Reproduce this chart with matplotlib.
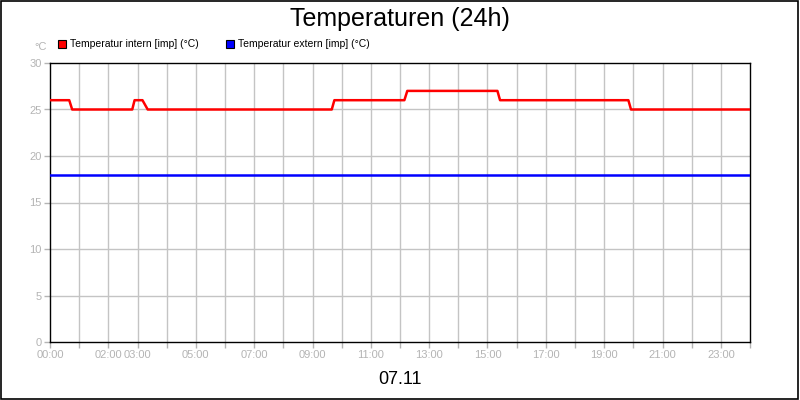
import matplotlib
matplotlib.use("Agg")
import matplotlib.pyplot as plt
from matplotlib.patches import Rectangle

plt.rcParams["font.family"] = ["Liberation Sans", "DejaVu Sans"]

# Messwerte (Stunden seit 00:00)
intern_t = [0, 0.66, 0.76, 2.82, 2.90, 3.17, 3.35, 9.66, 9.75,
            12.15, 12.25, 15.34, 15.43, 19.83, 19.92, 24]
intern_v = [26, 26, 25, 25, 26, 26, 25, 25, 26,
            26, 27, 27, 26, 26, 25, 25]
extern_t = [0, 24]
extern_v = [18, 18]

xtick_hours = [0, 2, 3, 5, 7, 9, 11, 13, 15, 17, 19, 21, 23]
xtick_labels = ["%02d:00" % h for h in xtick_hours]
yticks = [0, 5, 10, 15, 20, 25, 30]

gray = "#b4b4b4"
gridc = "#c4c4c4"

fig = plt.figure(figsize=(8, 4), dpi=100)
ax = fig.add_axes([50 / 800, 58 / 400, 700 / 800, 279 / 400])

# Gitter: jede Stunde vertikal
for h in range(1, 24):
    ax.axvline(h, color=gridc, lw=1, zorder=1)
for y in yticks[1:-1]:
    ax.axhline(y, color=gridc, lw=1, zorder=1)

ax.plot(extern_t, extern_v, color="#0000ff", lw=1.8, zorder=3)
ax.plot(intern_t, intern_v, color="#ff0000", lw=1.8, zorder=3)

ax.set_xlim(0, 24)
ax.set_ylim(0, 30)
ax.set_xticks(range(0, 25))
ax.set_xticklabels([xtick_labels[xtick_hours.index(h)] if h in xtick_hours else ""
                    for h in range(0, 25)])
ax.set_yticks(yticks)
ax.tick_params(axis="both", colors=gray, labelsize=8, length=4, width=1, pad=2)
for s in ax.spines.values():
    s.set_color("black")
    s.set_linewidth(1)

fig.text(0.5, 0.952, "Temperaturen (24h)", ha="center", va="center", fontsize=18)
fig.text(0.5, 0.052, "07.11", ha="center", va="center", fontsize=13)
fig.text(41 / 800, 1 - 47 / 400, "°C", ha="center", va="center", fontsize=8, color=gray)

# Legende
legend = [("Temperatur intern [imp] (°C)", "#ff0000", 58),
          ("Temperatur extern [imp] (°C)", "#0000ff", 226)]
for label, col, x0 in legend:
    fig.patches.append(Rectangle((x0 / 800, 1 - 48 / 400), 8 / 800, 8 / 400,
                                 transform=fig.transFigure, facecolor=col,
                                 edgecolor="black", lw=0.8))
    fig.text((x0 + 12) / 800, 1 - 44 / 400, label, ha="left", va="center", fontsize=7.5)

fig.patches.append(Rectangle((0.001, 0.002), 0.997, 0.995, transform=fig.transFigure,
                             fill=False, edgecolor="black", lw=1.2))

fig.savefig("out.png", dpi=100)
